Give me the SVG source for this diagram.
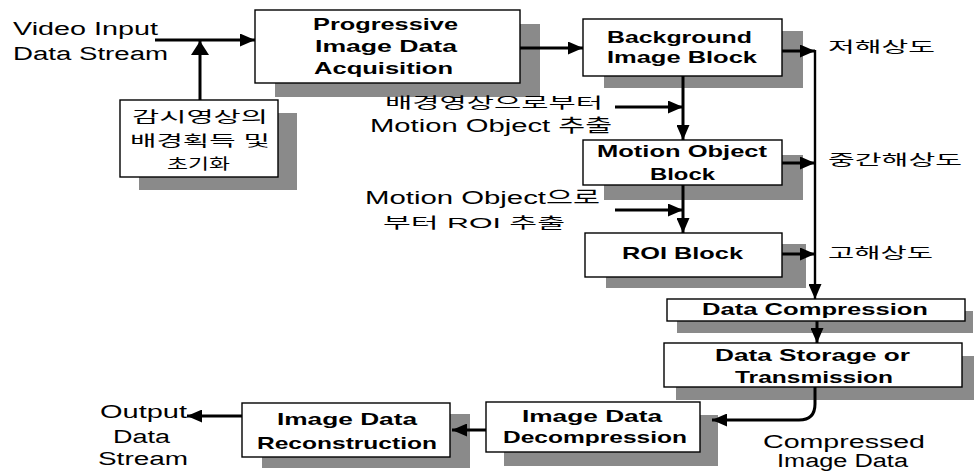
<svg xmlns="http://www.w3.org/2000/svg" width="974" height="472" viewBox="0 0 974 472">
<defs>
<style>
.shadow{fill:#8a8a8a}
.box{fill:#fff;stroke:#000;stroke-width:1.4}
.bt{font-family:"Liberation Sans","Noto Sans CJK KR",sans-serif;font-size:17px;font-weight:bold;fill:#000}
.lt{font-family:"Liberation Sans","Noto Sans CJK KR",sans-serif;font-size:18px;fill:#000}
.kt{font-family:"Liberation Sans","Noto Sans CJK KR",sans-serif;font-size:15px;fill:#000}
.c{fill:none;stroke:#000;stroke-width:3}
.c2{fill:none;stroke:#000;stroke-width:2.4}
</style>
<marker id="ah" markerUnits="userSpaceOnUse" markerWidth="15" markerHeight="13" refX="15" refY="6.5" orient="auto">
<path d="M0,0 L15,6.5 L0,13 Z" fill="#000"/>
</marker>
<marker id="ahb" markerUnits="userSpaceOnUse" markerWidth="14" markerHeight="18" refX="14" refY="9" orient="auto">
<path d="M0,0 L14,9 L0,18 Z" fill="#000"/>
</marker>
</defs>
<rect width="974" height="472" fill="#fff"/>

<!-- labels -->
<g id="labels">
<text class="lt" x="13" y="35" textLength="145" lengthAdjust="spacingAndGlyphs">Video Input</text>
<text class="lt" x="13" y="60" textLength="155" lengthAdjust="spacingAndGlyphs">Data Stream</text>
<text class="kt" x="828" y="52" textLength="107" lengthAdjust="spacingAndGlyphs">저해상도</text>
<text class="kt" x="828" y="165" textLength="134" lengthAdjust="spacingAndGlyphs">중간해상도</text>
<text class="kt" x="828" y="258" textLength="105" lengthAdjust="spacingAndGlyphs">고해상도</text>
<text class="lt" x="763" y="448" textLength="162" lengthAdjust="spacingAndGlyphs">Compressed</text>
<text class="lt" x="777" y="467" textLength="131" lengthAdjust="spacingAndGlyphs">Image Data</text>
<text class="lt" x="100" y="418" textLength="87" lengthAdjust="spacingAndGlyphs">Output</text>
<text class="lt" x="113" y="443" textLength="57" lengthAdjust="spacingAndGlyphs">Data</text>
<text class="lt" x="98" y="465" textLength="90" lengthAdjust="spacingAndGlyphs">Stream</text>
</g>

<!-- nodes -->
<g id="node-init">
<rect class="shadow" x="139" y="113" width="158" height="77"/>
<rect class="box" x="120" y="100" width="158" height="77"/>
<text class="kt" x="132" y="122" textLength="136" lengthAdjust="spacingAndGlyphs">감시영상의</text>
<text class="kt" x="130" y="146" textLength="140" lengthAdjust="spacingAndGlyphs">배경획득 및</text>
<text class="kt" x="167" y="169" textLength="63" lengthAdjust="spacingAndGlyphs">초기화</text>
</g>

<g id="node-acq">
<rect class="shadow" x="275" y="24" width="265" height="73"/>
<rect class="box" x="255" y="10" width="265" height="73"/>
<text class="bt" x="313" y="30" textLength="145" lengthAdjust="spacingAndGlyphs">Progressive</text>
<text class="bt" x="315" y="52" textLength="142" lengthAdjust="spacingAndGlyphs">Image Data</text>
<text class="bt" x="314" y="74" textLength="139" lengthAdjust="spacingAndGlyphs">Acquisition</text>
</g>

<g id="node-bg">
<rect class="shadow" x="604" y="31" width="199" height="57"/>
<rect class="box" x="583" y="19" width="199" height="57"/>
<text class="bt" x="607" y="43" textLength="145" lengthAdjust="spacingAndGlyphs">Background</text>
<text class="bt" x="607" y="63" textLength="150" lengthAdjust="spacingAndGlyphs">Image Block</text>
</g>

<g id="node-motion">
<rect class="shadow" x="604" y="155" width="199" height="45"/>
<rect class="box" x="583" y="140" width="199" height="45"/>
<text class="bt" x="597" y="157" textLength="170" lengthAdjust="spacingAndGlyphs">Motion Object</text>
<text class="bt" x="650" y="180" textLength="65" lengthAdjust="spacingAndGlyphs">Block</text>
</g>

<g id="node-roi">
<rect class="shadow" x="606" y="244" width="200" height="44"/>
<rect class="box" x="585" y="233" width="197" height="44"/>
<text class="bt" x="622" y="259" textLength="121" lengthAdjust="spacingAndGlyphs">ROI Block</text>
</g>

<g id="node-comp">
<rect class="shadow" x="677" y="311" width="296" height="22"/>
<rect class="box" x="667" y="299" width="298" height="22"/>
<text class="bt" x="702" y="315" textLength="226" lengthAdjust="spacingAndGlyphs">Data Compression</text>
</g>

<g id="node-store">
<rect class="shadow" x="676" y="356" width="298" height="44"/>
<rect class="box" x="664" y="343" width="298" height="44"/>
<text class="bt" x="715" y="361" textLength="195" lengthAdjust="spacingAndGlyphs">Data Storage or</text>
<text class="bt" x="735" y="383" textLength="158" lengthAdjust="spacingAndGlyphs">Transmission</text>
</g>

<g id="node-decomp">
<rect class="shadow" x="504" y="415" width="214" height="51"/>
<rect class="box" x="486" y="402" width="214" height="50"/>
<text class="bt" x="522" y="422" textLength="140" lengthAdjust="spacingAndGlyphs">Image Data</text>
<text class="bt" x="503" y="443" textLength="184" lengthAdjust="spacingAndGlyphs">Decompression</text>
</g>

<g id="node-recon">
<rect class="shadow" x="262" y="414" width="208" height="54"/>
<rect class="box" x="242" y="403" width="208" height="54"/>
<text class="bt" x="277" y="425" textLength="140" lengthAdjust="spacingAndGlyphs">Image Data</text>
<text class="bt" x="257" y="449" textLength="180" lengthAdjust="spacingAndGlyphs">Reconstruction</text>
</g>

<g id="side-labels">
<text class="kt" x="385" y="108" textLength="218" lengthAdjust="spacingAndGlyphs">배경영상으로부터</text>
<text class="lt" x="370" y="132" textLength="242" lengthAdjust="spacingAndGlyphs">Motion Object 추출</text>
<text class="lt" x="365" y="204" textLength="235" lengthAdjust="spacingAndGlyphs">Motion Object으로</text>
<text class="kt" x="383" y="228" textLength="182" lengthAdjust="spacingAndGlyphs">부터  ROI 추출</text>
</g>

<!-- connectors -->
<g id="connectors">
<line class="c" x1="155" y1="40" x2="255" y2="40" marker-end="url(#ah)"/>
<line class="c" x1="200" y1="100" x2="200" y2="41" marker-end="url(#ahb)"/>
<line class="c" x1="520" y1="48" x2="583" y2="48" marker-end="url(#ah)"/>
<line class="c" x1="683" y1="76" x2="683" y2="140" marker-end="url(#ah)"/>
<line class="c" x1="615" y1="107" x2="683" y2="107" marker-end="url(#ah)"/>
<line class="c" x1="683" y1="185" x2="683" y2="233" marker-end="url(#ah)"/>
<line class="c" x1="615" y1="210" x2="683" y2="210" marker-end="url(#ah)"/>
<line class="c" x1="782" y1="51" x2="815" y2="51" marker-end="url(#ah)"/>
<line class="c" x1="782" y1="163" x2="815" y2="163" marker-end="url(#ah)"/>
<line class="c" x1="782" y1="254" x2="815" y2="254" marker-end="url(#ah)"/>
<line class="c2" x1="815" y1="50" x2="815" y2="299" marker-end="url(#ah)"/>
<line class="c" x1="817" y1="321" x2="817" y2="343" marker-end="url(#ah)"/>
<path class="c" d="M815,387 L815,404 Q815,420 799,420 L712,420" marker-end="url(#ah)"/>
<line class="c" x1="486" y1="430" x2="452" y2="430" marker-end="url(#ah)"/>
<line class="c" x1="242" y1="416" x2="187" y2="416" marker-end="url(#ah)"/>
</g>
</svg>
